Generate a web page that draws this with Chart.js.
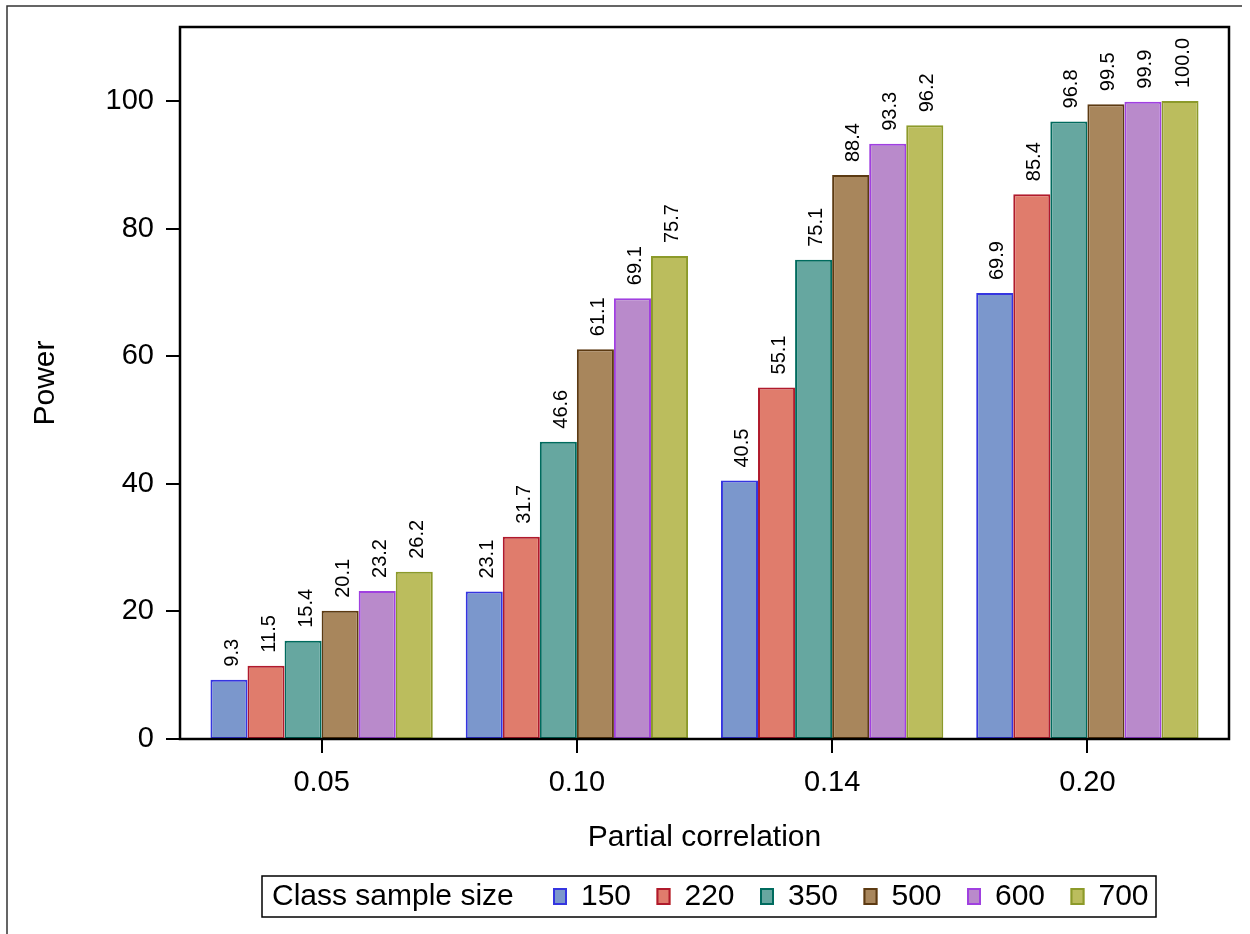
<!DOCTYPE html>
<html>
<head>
<meta charset="utf-8">
<title>Power by partial correlation</title>
<script src="https://cdn.jsdelivr.net/npm/chart.js@4.4.1/dist/chart.umd.min.js"></script>
<style>
  html, body { margin: 0; padding: 0; background: #fff; }
  canvas { display: block; }
</style>
</head>
<body>
<canvas id="powerChart" width="1250" height="934"></canvas>
<script>
const correlations = ['0.05', '0.10', '0.14', '0.20'];
const sampleSizes = ['150', '220', '350', '500', '600', '700'];
const power150 = [9.3, 23.1, 40.5, 69.9];
const power220 = [11.5, 31.7, 55.1, 85.4];
const power350 = [15.4, 46.6, 75.1, 96.8];
const power500 = [20.1, 61.1, 88.4, 99.5];
const power600 = [23.2, 69.1, 93.3, 99.9];
const power700 = [26.2, 75.7, 96.2, 100.0];
const yTicks = [0, 20, 40, 60, 80, 100];

const fillColors = ['#7b97cc', '#e07c6c', '#66a7a0', '#a8865c', '#b98acb', '#bbbd5d'];
const lineColors = ['#3535e0', '#b01a2c', '#006b5e', '#5c3a12', '#a040e0', '#8c9a2a'];

const FONT = "'Liberation Sans', Arial, sans-serif";
Chart.defaults.font.family = FONT;
Chart.defaults.color = '#000';

const seriesValues = [power150, power220, power350, power500, power600, power700];

// frame, tick marks, bar labels and the boxed legend (SAS style)
const sasDecor = {
  id: 'sasDecor',
  afterDraw(chart) {
    const ctx = chart.ctx;
    const area = chart.chartArea;
    const xScale = chart.scales.x;
    const yScale = chart.scales.y;
    const ext = 14; // frame sits a bit outside the category area

    ctx.save();

    // outer figure border (top + left only)
    ctx.strokeStyle = '#333';
    ctx.lineWidth = 1.5;
    ctx.beginPath();
    ctx.moveTo(7, 934);
    ctx.lineTo(7, 6);
    ctx.lineTo(1242, 6);
    ctx.stroke();

    // bar value labels, rotated
    ctx.fillStyle = '#000';
    ctx.font = '20px ' + FONT;
    ctx.textAlign = 'left';
    ctx.textBaseline = 'middle';
    chart.data.datasets.forEach((ds, di) => {
      const meta = chart.getDatasetMeta(di);
      meta.data.forEach((bar, i) => {
        ctx.save();
        ctx.translate(bar.x + 3, bar.y - 13);
        ctx.rotate(-Math.PI / 2);
        ctx.fillText(ds.data[i].toFixed(1), 0, 0);
        ctx.restore();
      });
    });

    // plot frame
    const fl = area.left - ext, fr = area.right + ext;
    ctx.strokeStyle = '#000';
    ctx.lineWidth = 2.5;
    ctx.strokeRect(fl, area.top, fr - fl, area.bottom - area.top);

    // tick marks
    ctx.lineWidth = 2;
    ctx.beginPath();
    yTicks.forEach(v => {
      const py = Math.round(yScale.getPixelForValue(v));
      ctx.moveTo(fl, py);
      ctx.lineTo(fl - 14, py);
    });
    correlations.forEach((c, i) => {
      const px = Math.round(xScale.getPixelForValue(i));
      ctx.moveTo(px, area.bottom);
      ctx.lineTo(px, area.bottom + 14);
    });
    ctx.stroke();

    // legend
    ctx.lineWidth = 1.5;
    ctx.strokeStyle = '#000';
    ctx.strokeRect(262, 876, 894, 41);
    ctx.font = '30px ' + FONT;
    ctx.textBaseline = 'middle';
    ctx.fillStyle = '#000';
    ctx.fillText('Class sample size', 272, 897);
    sampleSizes.forEach((s, i) => {
      const bx = 553 + i * 103.5;
      ctx.fillStyle = fillColors[i];
      ctx.fillRect(bx, 888, 14, 17);
      ctx.strokeStyle = lineColors[i];
      ctx.lineWidth = 2;
      ctx.strokeRect(bx + 1, 889, 12, 15);
      ctx.fillStyle = '#000';
      ctx.fillText(s, bx + 28, 897);
    });

    ctx.restore();
  }
};

new Chart(document.getElementById('powerChart'), {
  type: 'bar',
  data: {
    labels: correlations,
    datasets: sampleSizes.map((s, i) => ({
      label: s,
      data: seriesValues[i],
      backgroundColor: fillColors[i],
      borderColor: lineColors[i],
      borderWidth: 2,
      borderSkipped: false,
      categoryPercentage: 0.871,
      barPercentage: 1.0
    }))
  },
  options: {
    responsive: false,
    animation: false,
    layout: { padding: { top: 27, right: 35, left: 0, bottom: 0 } },
    plugins: {
      legend: { display: false },
      tooltip: { enabled: false }
    },
    scales: {
      x: {
        grid: { display: false, drawTicks: false },
        border: { display: false },
        ticks: { font: { size: 29 }, padding: 27, color: '#000' },
        title: {
          display: true,
          text: 'Partial correlation',
          font: { size: 30 },
          color: '#000',
          padding: { top: 0, bottom: 78 }
        },
        afterFit(scale) { scale.height = 195; }
      },
      y: {
        min: 0,
        max: 111.6,
        // invisible tick length keeps labels clear of the frame without
        // inflating the top padding the way a large ticks.padding does
        grid: { display: false, drawTicks: true, tickLength: 36 },
        border: { display: false },
        afterBuildTicks(scale) { scale.ticks = yTicks.map(v => ({ value: v })); },
        ticks: { font: { size: 29 }, padding: 4, color: '#000' },
        title: {
          display: true,
          text: 'Power',
          font: { size: 30 },
          color: '#000',
          padding: { top: 28, bottom: 0 }
        },
        afterFit(scale) { scale.width = 194; }
      }
    }
  },
  plugins: [sasDecor]
});
</script>
</body>
</html>
